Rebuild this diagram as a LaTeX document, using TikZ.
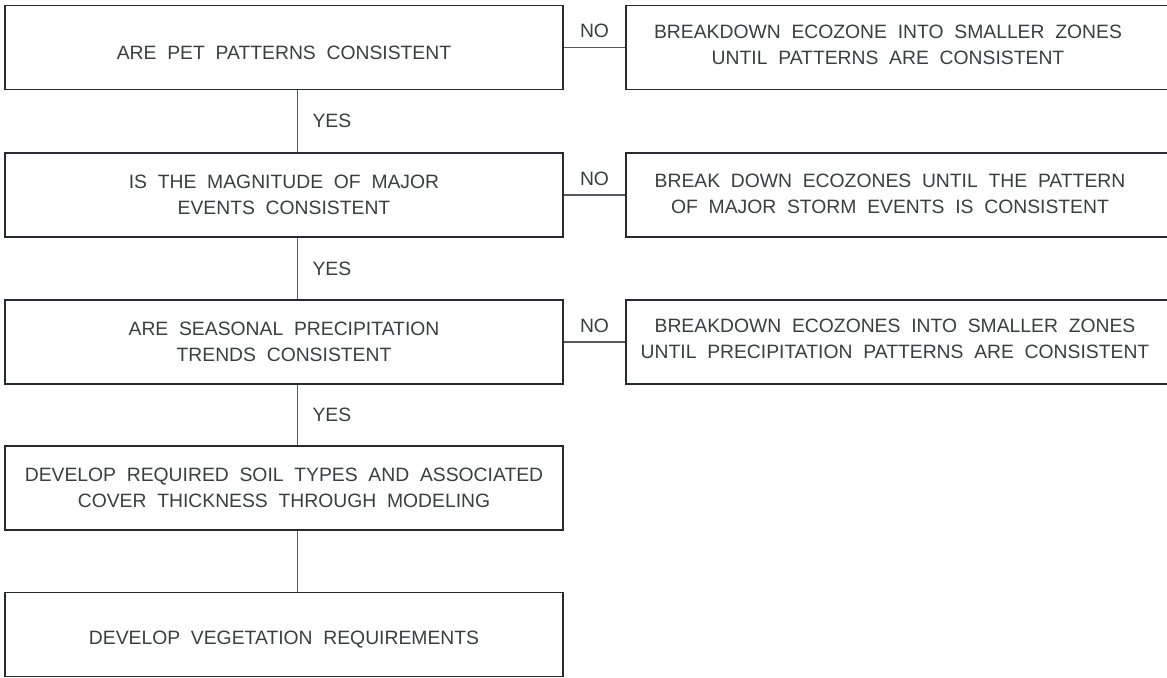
\documentclass[tikz,border=0pt]{standalone}
\usepackage{tikz}
\usepackage{fontspec}
\setmainfont{Liberation Sans}[WordSpace=2]
\definecolor{boxc}{HTML}{272B31}
\definecolor{linkc}{HTML}{555A60}
\definecolor{txtc}{HTML}{3A3D42}
\tikzset{
  txt/.style={align=center, text=txtc, font=\fontsize{11}{14.5}\selectfont},
  box/.style={txt, draw=boxc, line width=1.1pt, minimum width=11.16cm, minimum height=1.68cm, inner sep=0pt},
  onebox/.style={box, text height=13.5pt},
  sidebox/.style={draw=boxc, line width=1.1pt, minimum width=12cm, minimum height=1.68cm},
  lbl/.style={txt, inner sep=0pt},
  link/.style={draw=linkc, line width=0.7pt},
}
\begin{document}
\begin{tikzpicture}[x=0.02cm,y=-0.02cm]
\useasboundingbox (0,0) rectangle (1167,677);
% main column
\node[onebox] (q1) at (284,47.5) {ARE PET PATTERNS CONSISTENT};
\node[box] (q2) at (284,195) {IS THE MAGNITUDE OF MAJOR\\EVENTS CONSISTENT};
\node[box] (q3) at (284,342) {ARE SEASONAL PRECIPITATION\\TRENDS CONSISTENT};
\node[box] (s1) at (284,488) {DEVELOP REQUIRED SOIL TYPES AND ASSOCIATED\\COVER THICKNESS THROUGH MODELING};
\node[onebox] (s2) at (284,634.5) {DEVELOP VEGETATION REQUIREMENTS};
% side boxes, running off the right edge
\node[sidebox] (b1) at (926,47.5) {};
\node[sidebox] (b2) at (926,195) {};
\node[sidebox] (b3) at (926,342) {};
\node[txt] (b1t) at (888,45) {BREAKDOWN ECOZONE INTO SMALLER ZONES\\UNTIL PATTERNS ARE CONSISTENT};
\node[txt] (b2t) at (890,194) {BREAK DOWN ECOZONES UNTIL THE PATTERN\\OF MAJOR STORM EVENTS IS CONSISTENT};
\node[txt] (b3t) at (895,339) {BREAKDOWN ECOZONES INTO SMALLER ZONES\\UNTIL PRECIPITATION PATTERNS ARE CONSISTENT};
% connectors
\draw[link] (q1) -- node[lbl,above=5pt]{NO} (b1);
\draw[link] (q2) -- node[lbl,above=5pt]{NO} (b2);
\draw[link] (q3) -- node[lbl,above=5pt]{NO} (b3);
\draw[link] ([xshift=7.9pt]q1.south) -- node[lbl,right=8pt]{YES} ([xshift=7.9pt]q2.north);
\draw[link] ([xshift=7.9pt]q2.south) -- node[lbl,right=8pt]{YES} ([xshift=7.9pt]q3.north);
\draw[link] ([xshift=7.9pt]q3.south) -- node[lbl,right=8pt]{YES} ([xshift=7.9pt]s1.north);
\draw[link] ([xshift=7.9pt]s1.south) -- ([xshift=7.9pt]s2.north);
\end{tikzpicture}
\end{document}
